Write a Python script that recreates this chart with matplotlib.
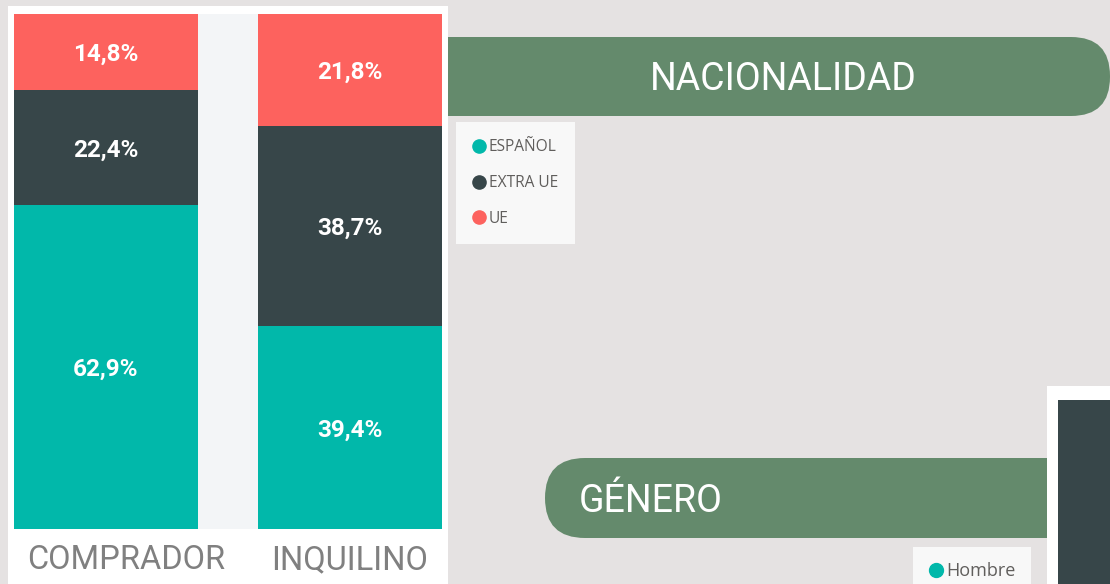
"""Nacionalidad de compradores e inquilinos: barras apiladas al 100 %."""

import matplotlib

matplotlib.use("Agg")
import matplotlib.pyplot as plt
from matplotlib.lines import Line2D
from matplotlib.patches import FancyBboxPatch, Rectangle
from matplotlib.transforms import ScaledTranslation


CATEGORIES = ["COMPRADOR", "INQUILINO"]
SERIES = ["ESPAÑOL", "EXTRA UE", "UE"]
ESPANOL = [62.9, 39.4]
EXTRA_UE = [22.4, 38.7]
UE = [14.8, 21.8]
COLORS = ["#01B8AA", "#374649", "#FD625E"]

W, H = 1110, 584
BG = "#e5e2e2"
BAND = "#648a6c"


def pct(value: float) -> str:
    return f"{value:.1f}%".replace(".", ",")


def main() -> None:
    plt.rcParams["font.family"] = ["Roboto", "DejaVu Sans"]
    fig = plt.figure(figsize=(W / 100, H / 100), dpi=100, facecolor=BG)

    # background canvas in pixel coordinates
    canvas = fig.add_axes([0, 0, 1, 1])
    canvas.set_xlim(0, W)
    canvas.set_ylim(H, 0)
    canvas.axis("off")

    canvas.add_patch(
        FancyBboxPatch(
            (380, 37), 730, 79,
            boxstyle="round,pad=0,rounding_size=39",
            facecolor=BAND, edgecolor="none", zorder=1,
        )
    )
    canvas.text(783, 80, "NACIONALIDAD", color="white", fontsize=27,
                ha="center", va="center", zorder=3)

    canvas.add_patch(
        FancyBboxPatch(
            (545, 458), 560, 80,
            boxstyle="round,pad=0,rounding_size=40",
            facecolor=BAND, edgecolor="none", zorder=1,
        )
    )
    canvas.text(579, 501, "GÉNERO", color="white", fontsize=27,
                ha="left", va="center", zorder=3)

    # white card behind the stacked bars
    canvas.add_patch(Rectangle((8, 6), 440, 600, facecolor="white",
                               edgecolor="none", zorder=2))
    # cropped card of the next chart
    canvas.add_patch(Rectangle((1047, 386), 80, 220, facecolor="white",
                               edgecolor="none", zorder=2))
    canvas.add_patch(Rectangle((1058, 400), 70, 200, facecolor=COLORS[1],
                               edgecolor="none", zorder=3))

    ax = fig.add_axes([14 / W, (H - 529) / H, 428 / W, 515 / H])
    ax.set_facecolor("#f3f5f7")
    x = range(len(CATEGORIES))
    bottom = [0.0] * len(CATEGORIES)
    totals = [a + b + c for a, b, c in zip(ESPANOL, EXTRA_UE, UE)]
    for name, values, color in zip(SERIES, (ESPANOL, EXTRA_UE, UE), COLORS):
        heights = [v / t * 100 for v, t in zip(values, totals)]
        ax.bar(x, heights, width=0.754, bottom=bottom, color=color,
               label=name, linewidth=0)
        for i, (v, h, b) in enumerate(zip(values, heights, bottom)):
            ax.text(i, b + h / 2, pct(v), color="white", fontsize=17.5,
                    fontweight="bold", ha="center", va="center_baseline")
        bottom = [b + h for b, h in zip(bottom, heights)]
    ax.set_xlim(-0.377, 1.377)
    ax.set_ylim(0, 100)
    ax.set_xticks(list(x), CATEGORIES, fontsize=23.5, color="#808080")
    ax.tick_params(axis="x", length=0, pad=11)
    ax.set_yticks([])
    for spine in ax.spines.values():
        spine.set_visible(False)
    # the first category label sits a little right of its bar in the original
    first = ax.get_xticklabels()[0]
    first.set_transform(first.get_transform()
                        + ScaledTranslation(0.2, 0, fig.dpi_scale_trans))

    handles = [
        Line2D([], [], marker="o", linestyle="none", markersize=9.5,
               markerfacecolor=c, markeredgecolor=c, label=s)
        for s, c in zip(SERIES, COLORS)
    ]
    leg = fig.legend(
        handles=handles, loc="upper left",
        bbox_to_anchor=(456 / W, 1 - 122 / H),
        frameon=True, fancybox=False, facecolor="#f8f8f8", edgecolor="none",
        framealpha=1, borderaxespad=0, borderpad=1.1, handlelength=0.8,
        handletextpad=0.2, labelspacing=1.28,
        prop={"family": ["Open Sans", "DejaVu Sans"], "size": 11.2},
    )
    for text in leg.get_texts():
        text.set_color("#605e5c")

    leg2 = fig.legend(
        handles=[Line2D([], [], marker="o", linestyle="none", markersize=10,
                        markerfacecolor=COLORS[0], markeredgecolor=COLORS[0],
                        label="Hombre")],
        loc="upper left", bbox_to_anchor=(913 / W, 1 - 547 / H),
        frameon=True, fancybox=False, facecolor="#f8f8f8", edgecolor="none",
        framealpha=1, borderaxespad=0, borderpad=0.85, handlelength=0.8,
        handletextpad=0.2,
        prop={"family": ["Open Sans", "DejaVu Sans"], "size": 13},
    )
    leg2.get_texts()[0].set_color("#605e5c")

    fig.savefig("out.png", dpi=100, facecolor=BG)
    plt.close(fig)


if __name__ == "__main__":
    main()
